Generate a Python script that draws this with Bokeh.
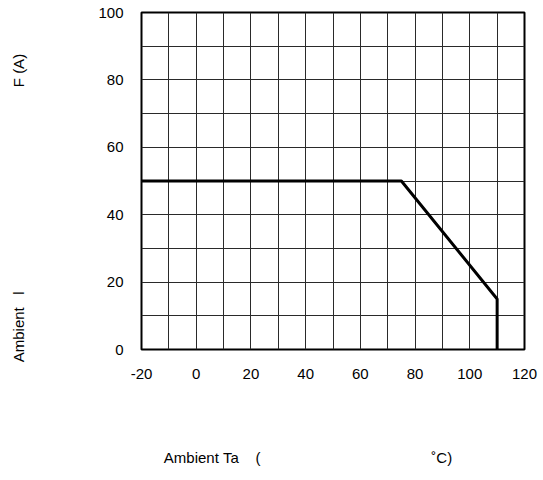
from bokeh.plotting import figure
from bokeh.models import FixedTicker, Range1d
from bokeh.embed import file_html
from bokeh.resources import INLINE

# data
temp = [-20, 75, 110, 110]
current = [50, 50, 15, 0]
x_ticks = [-20, 0, 20, 40, 60, 80, 100, 120]
x_tick_labels = ["-20", "0", "20", "40", "60", "80", "100", "120"]
y_ticks = [0, 20, 40, 60, 80, 100]
x_grid = list(range(-20, 121, 10))
y_grid = list(range(0, 101, 10))

NB = "\u00a0"
x_title = "Ambient" + NB + "Ta" + NB * 4 + "(" + NB * 41 + "˚C)" + NB * 12
y_title = "Ambient" + NB * 3 + "l" + NB * 49 + "F" + NB + "(A)" + NB * 13

W, H = 541, 472
FONT = "Liberation Sans"

p = figure(width=W, height=H, output_backend="svg", toolbar_location=None,
           x_range=Range1d(-20, 120), y_range=Range1d(0, 100),
           min_border_left=141, min_border_right=17,
           min_border_top=12, min_border_bottom=H - 349)
p.outline_line_color = "black"
p.outline_line_width = 2

p.xgrid.ticker = FixedTicker(ticks=x_grid)
p.ygrid.ticker = FixedTicker(ticks=y_grid)
for g in (p.xgrid, p.ygrid):
    g.grid_line_color = "#2a2a2a"
    g.grid_line_width = 1
    g.grid_line_alpha = 1

p.xaxis.ticker = FixedTicker(ticks=x_ticks)
p.xaxis.major_label_overrides = dict(zip(x_ticks, x_tick_labels))
p.yaxis.ticker = FixedTicker(ticks=y_ticks)
for ax in (p.xaxis, p.yaxis):
    ax.axis_line_color = None
    ax.major_tick_line_color = None
    ax.minor_tick_line_color = None
    ax.major_label_text_font = FONT
    ax.major_label_text_font_size = "15px"
    ax.major_label_text_color = "black"
    ax.axis_label_text_font = FONT
    ax.axis_label_text_font_size = "15px"
    ax.axis_label_text_font_style = "normal"
    ax.axis_label_text_color = "black"
p.xaxis.major_label_standoff = 13
p.yaxis.major_label_standoff = 12
p.xaxis.axis_label = x_title
p.yaxis.axis_label = y_title
p.xaxis.axis_label_standoff = 67
p.yaxis.axis_label_standoff = 68

p.line(temp, current, line_color="black", line_width=3)

open("out.html", "w").write(file_html(p, INLINE))
